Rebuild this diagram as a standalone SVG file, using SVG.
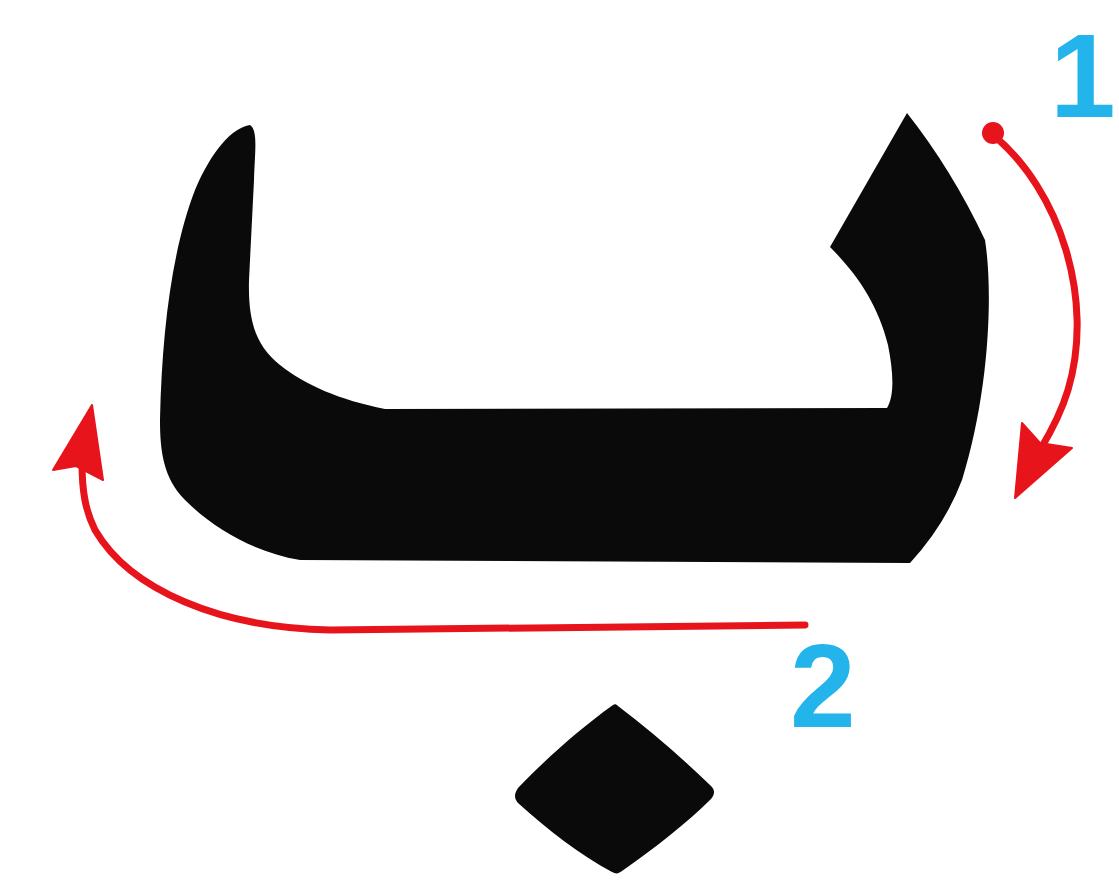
<svg xmlns="http://www.w3.org/2000/svg" width="1119" height="881" viewBox="0 0 1119 881">
<style>
.ink{fill:#0a0a0a}
.stroke{fill:none;stroke:#e8141c;stroke-width:7;stroke-linecap:round;stroke-linejoin:round}
.head{fill:#e8141c;stroke:#e8141c;stroke-width:2;stroke-linejoin:round}
.num{font-family:"Liberation Sans",Arial,sans-serif;font-size:118px;font-weight:bold;fill:#22b4ea}
</style>
<rect width="1119" height="881" fill="#ffffff"/>
<g id="letter">
<path class="ink" d="M250,125 C258,130 255,150 254,180 L249,280 C248,320 255,345 280,365 C305,385 340,400 385,409 L887,408 C895,395 893,370 888,345 C878,305 858,275 830,247 L907,113 Q952,170 985,240 C993,290 990,390 962,480 Q945,525 910,563 L300,560 C255,552 215,530 185,500 C163,478 160,450 160,420 C162,330 172,250 195,190 C212,150 232,128 250,125 Z"/>
</g>
<g id="dot">
<path class="ink" d="M613,705 C578,730 545,760 518,788 C514,794 514,798 518,803 C548,830 580,855 612,872 C616,874 618,874 622,871 C655,848 688,822 711,799 C715,794 715,790 711,786 C682,758 650,730 618,706 C616,704 615,704 613,705 Z"/>
</g>
<g id="connectors">
<circle cx="993" cy="133" r="11" fill="#e8141c"/>
<path class="stroke" d="M993,135 C1060,190 1095,300 1068,390 C1062,410 1052,430 1040,450"/>
<polygon class="head" points="1015,498 1022,423 1040,443 1072,448"/>
<path class="stroke" d="M805,625 L330,630 C220,628 130,590 95,530 C85,510 82,490 82,462"/>
<polygon class="head" points="92,405 53,470 76,466 103,480"/>
</g>
<g id="labels">
<text class="num" x="1050" y="117">1</text>
<text class="num" x="790" y="727">2</text>
</g>
</svg>
